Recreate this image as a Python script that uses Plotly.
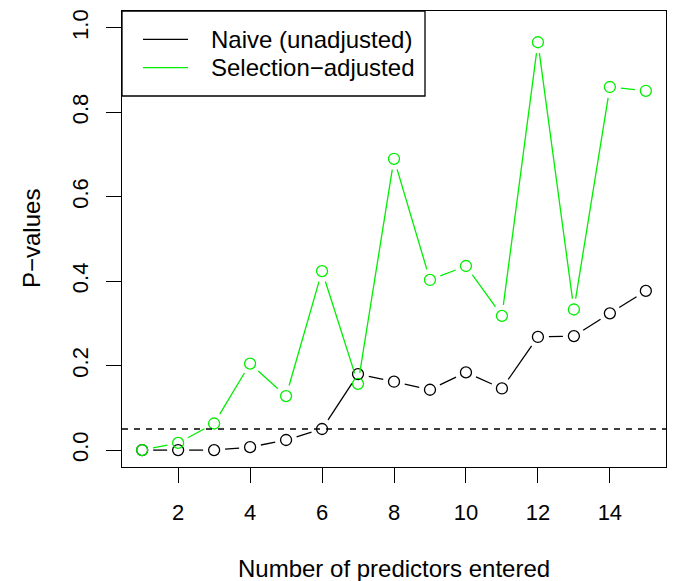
import math
import plotly.graph_objects as go

# ---- data ----
steps = list(range(1, 16))
naive = [0.000, 0.000, 0.000, 0.007, 0.024, 0.050, 0.180, 0.162, 0.143,
         0.184, 0.146, 0.268, 0.270, 0.324, 0.377]
adjusted = [0.000, 0.017, 0.063, 0.205, 0.128, 0.424, 0.157, 0.690, 0.403,
            0.436, 0.318, 0.966, 0.333, 0.860, 0.851]
x_ticks = [2, 4, 6, 8, 10, 12, 14]
y_ticks = [0.0, 0.2, 0.4, 0.6, 0.8, 1.0]
y_tick_text = ["0.0", "0.2", "0.4", "0.6", "0.8", "1.0"]
alpha_level = 0.05
series_names = ["Naive (unadjusted)", "Selection\u2212adjusted"]
series_colors = ["#000000", "#00ee00"]

# ---- layout geometry ----
W, H = 674, 581
L, R, T, B = 122, 8, 11, 114
PW, PH = W - L - R, H - T - B
XR = [0.44, 15.56]
YR = [-0.04, 1.04]
FONT = "Liberation Sans, Arial, Helvetica, sans-serif"
GAP = 11.0  # pixel gap between point centre and line (R type="b")

sx = PW / (XR[1] - XR[0])
sy = PH / (YR[1] - YR[0])


def gapped(xs, ys):
    gx, gy = [], []
    for i in range(len(xs) - 1):
        dx = (xs[i + 1] - xs[i]) * sx
        dy = (ys[i + 1] - ys[i]) * sy
        d = math.hypot(dx, dy)
        if d <= 2 * GAP:
            continue
        f = GAP / d
        gx += [xs[i] + f * (xs[i + 1] - xs[i]), xs[i + 1] - f * (xs[i + 1] - xs[i]), None]
        gy += [ys[i] + f * (ys[i + 1] - ys[i]), ys[i + 1] - f * (ys[i + 1] - ys[i]), None]
    return gx, gy


fig = go.Figure()
for ys, name, col in zip([naive, adjusted], series_names, series_colors):
    gx, gy = gapped(steps, ys)
    fig.add_trace(go.Scatter(x=gx, y=gy, mode="lines", line=dict(color=col, width=1.3),
                             showlegend=False, hoverinfo="skip"))
    fig.add_trace(go.Scatter(x=steps, y=ys, mode="markers", name=name,
                             marker=dict(symbol="circle-open", size=11, color=col,
                                         line=dict(color=col, width=1.3)),
                             showlegend=False))

# dashed reference line
fig.add_shape(type="line", xref="paper", yref="y", x0=0, x1=1, y0=alpha_level, y1=alpha_level,
              line=dict(color="black", width=1.3, dash="6px,6px"))


def px2x(px):
    return (px - L) / PW


def py2y(py):
    return (T + PH - py) / PH


# legend (drawn like R's legend box)
fig.add_shape(type="rect", xref="paper", yref="paper", x0=px2x(122), x1=px2x(425),
              y0=py2y(96), y1=py2y(11), line=dict(color="black", width=1.3), fillcolor="white")
for k, (name, col) in enumerate(zip(series_names, series_colors)):
    ly = [39.3, 67.7][k]
    fig.add_shape(type="line", xref="paper", yref="paper", x0=px2x(143), x1=px2x(188),
                  y0=py2y(ly), y1=py2y(ly), line=dict(color=col, width=1.3))
    fig.add_annotation(xref="paper", yref="paper", x=px2x(209), y=py2y(ly), text=name,
                       showarrow=False, xanchor="left", yanchor="middle",
                       font=dict(family=FONT, size=24, color="black"))

# axis titles
fig.add_annotation(xref="paper", yref="paper", x=0.5, y=py2y(568), text="Number of predictors entered",
                   showarrow=False, xanchor="center", yanchor="middle",
                   font=dict(family=FONT, size=24, color="black"))
fig.add_annotation(xref="paper", yref="paper", x=px2x(31), y=0.5, text="P\u2212values",
                   showarrow=False, xanchor="center", yanchor="middle", textangle=-90,
                   font=dict(family=FONT, size=24, color="black"))

fig.update_layout(
    width=W, height=H, margin=dict(l=L, r=R, t=T, b=B, pad=0),
    paper_bgcolor="white", plot_bgcolor="white", showlegend=False,
    font=dict(family=FONT, color="black"),
    xaxis=dict(range=XR, tickvals=x_ticks, ticks="outside", ticklen=15, tickwidth=1.3,
               tickcolor="black", showgrid=False, zeroline=False, showline=True, mirror=True,
               linecolor="black", linewidth=1.3, tickfont=dict(family=FONT, size=22),
               ticklabelstandoff=10),
    yaxis=dict(range=YR, tickvals=y_ticks, ticktext=y_tick_text, ticks="outside", ticklen=15,
               tickwidth=1.3, tickcolor="black", showgrid=False, zeroline=False, showline=True,
               mirror=True, linecolor="black", linewidth=1.3, tickangle=-90,
               tickfont=dict(family=FONT, size=22), ticklabelstandoff=9),
)

fig.write_html("out.html")
